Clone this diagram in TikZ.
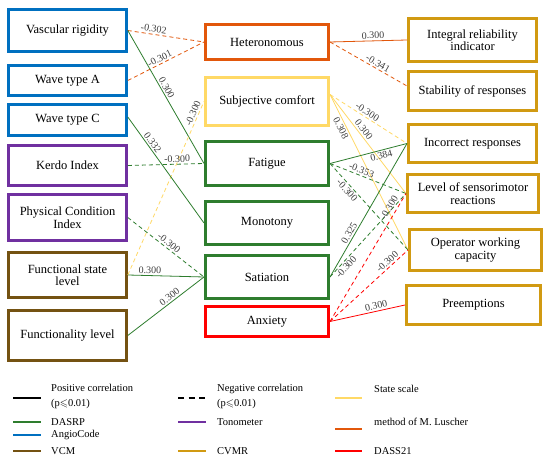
\documentclass[tikz,border=0pt]{standalone}
\usepackage{fontspec}
\setmainfont{Liberation Serif}
\usepackage{amssymb}
\definecolor{angio}{HTML}{0070C0}
\definecolor{dasrp}{HTML}{2E7D2E}
\definecolor{tono}{HTML}{7030A0}
\definecolor{vcm}{HTML}{745212}
\definecolor{cvmr}{HTML}{D19A12}
\definecolor{statesc}{HTML}{FFD966}
\definecolor{luscher}{HTML}{E2570B}
\definecolor{dass}{HTML}{FF0000}
\tikzset{
  box/.style={draw=#1, line width=2.6pt, align=center, inner sep=1pt, font=\fontsize{12.5}{12.5}\selectfont},
  posln/.style={draw=#1, line width=.8pt},
  negln/.style={draw=#1, line width=.8pt, dash pattern=on 4pt off 3pt},
  coef/.style={sloped, inner sep=1.5pt, text=black!75, font=\fontsize{10}{10}\selectfont},
  legtext/.style={anchor=west, align=left, inner sep=0pt, font=\fontsize{10.5}{15}\selectfont},
  swatch/.style={line width=2pt}
}
\begin{document}
\begin{tikzpicture}[x=1pt,y=-1pt]
\useasboundingbox[fill=white] (0,0) rectangle (550,462);
% left column
\node[box=angio,minimum width=118pt,minimum height=42.4pt] (vr) at (67.5,30.5) {Vascular rigidity};
\node[box=angio,minimum width=118pt,minimum height=30.4pt] (wta) at (67.5,80.5) {Wave type A};
\node[box=angio,minimum width=118pt,minimum height=31.4pt] (wtc) at (67.5,120) {Wave type C};
\node[box=tono,minimum width=118pt,minimum height=40.4pt] (kerdo) at (67.5,165.5) {Kerdo Index};
\node[box=tono,minimum width=118pt,minimum height=46.4pt] (pci) at (67.5,217.5) {Physical Condition\\Index};
\node[box=vcm,minimum width=118pt,minimum height=45.4pt] (fsl) at (67.5,275) {Functional state\\level};
\node[box=vcm,minimum width=118pt,minimum height=50.4pt] (fl) at (67.5,335.5) {Functionality level};
% middle column
\node[box=luscher,minimum width=123.4pt,minimum height=35.4pt] (het) at (267,42) {Heteronomous};
\node[box=statesc,minimum width=123.4pt,minimum height=48.4pt] (sc) at (267,101.5) {Subjective comfort};
\node[box=dasrp,minimum width=123.4pt,minimum height=44.4pt] (fat) at (267,163.5) {Fatigue};
\node[box=dasrp,minimum width=123.4pt,minimum height=43.4pt] (mon) at (267,223) {Monotony};
\node[box=dasrp,minimum width=123.4pt,minimum height=43.4pt] (sat) at (267,277) {Satiation};
\node[box=dass,minimum width=123.4pt,minimum height=30.4pt] (anx) at (267,321.5) {Anxiety};
% right column
\node[box=cvmr,minimum width=128.4pt,minimum height=43.4pt] (iri) at (472.5,40) {Integral reliability\\indicator};
\node[box=cvmr,minimum width=128.4pt,minimum height=39.4pt] (sor) at (472.5,91) {Stability of responses};
\node[box=cvmr,minimum width=128.4pt,minimum height=38.4pt] (ir) at (472.5,143.5) {Incorrect responses};
\node[box=cvmr,minimum width=131.4pt,minimum height=38.4pt] (lsr) at (473,193.5) {Level of sensorimotor\\reactions};
\node[box=cvmr,minimum width=132.4pt,minimum height=41.4pt] (owc) at (475.5,250) {Operator working\\capacity};
\node[box=cvmr,minimum width=134.4pt,minimum height=39.4pt] (pre) at (473.5,305) {Preemptions};

% left links
\coordinate (wtc-r) at ([yshift=3pt]wtc.east);
\draw[negln=luscher] (vr.east) -- node[coef,above,pos=.33]{-0.302} (het.west);
\draw[negln=luscher] (wta.east) -- node[coef,above,pos=.45]{-0.301} (het.west);
\draw[posln=dasrp] (vr.east) -- node[coef,above,pos=.45]{0.300} (fat.west);
\draw[negln=statesc] (fsl.east) -- node[coef,above,pos=.92]{-0.300} (sc.west);
\draw[posln=dasrp] (wtc-r) -- node[coef,above,pos=.27]{0.332} (mon.west);
\draw[negln=dasrp] (kerdo.east) -- node[coef,above,pos=.65]{-0.300} (fat.west);
\draw[negln=dasrp] (pci.east) -- node[coef,above,pos=.5]{-0.300} (sat.west);
\draw[posln=dasrp] (fsl.east) -- node[coef,above,pos=.29]{0.300} (sat.west);
\draw[posln=dasrp] (fl.east) -- node[coef,above,pos=.59]{0.300} (sat.west);

% right links
\coordinate (sc-r) at ([yshift=7pt]sc.east);
\coordinate (sor-l) at ([yshift=5pt]sor.west);
\draw[posln=luscher] (het.east) -- node[coef,above,pos=.56]{0.300} (iri.west);
\draw[negln=luscher] (het.east) -- node[coef,above,pos=.59]{-0.341} (sor-l);
\draw[negln=statesc] (sc-r) -- node[coef,above,pos=.45]{-0.300} (ir.west);
\draw[posln=statesc] (sc-r) -- node[coef,above,pos=.39]{0.300} (lsr.west);
\draw[posln=statesc] (sc-r) -- node[coef,below,pos=.2]{0.308} (owc.west);
\draw[posln=dasrp] (fat.east) -- node[coef,below,pos=.65]{0.384} (ir.west);
\draw[negln=dasrp] (fat.east) -- node[coef,above,pos=.39]{-0.353} (lsr.west);
\draw[negln=dasrp] (fat.east) -- node[coef,below,pos=.27]{-0.300} (owc.west);
\draw[posln=dasrp] (sat.east) -- node[coef,above,pos=.31]{0.325} (ir.west);
\draw[negln=dasrp] (sat.east) -- node[coef,below,pos=.16]{-0.300} (lsr.west);
\draw[negln=dass] (anx.east) -- node[coef,above=2pt,pos=.86]{-0.300} (lsr.west);
\draw[negln=dass] (anx.east) -- node[coef,above,pos=.78]{-0.300} (owc.west);
\draw[posln=dass] (anx.east) -- node[coef,above,pos=.63]{0.300} (pre.west);

% legend
\draw[swatch] (13,398) -- (41,398);
\node[legtext] (lpos) at (51,396.5) {Positive correlation\\(p$\leqslant$0.01)};
\draw[swatch,dash pattern=on 6pt off 4.5pt] (178,398) -- (205,398);
\node[legtext] (lneg) at (217,396.5) {Negative correlation\\(p$\leqslant$0.01)};
\draw[swatch,statesc] (335,398) -- (362,398);
\node[legtext] (lstate) at (374,389) {State scale};
\draw[swatch,dasrp] (13,422) -- (41,422);
\node[legtext] (ldasrp) at (51,422) {DASRP};
\draw[swatch,angio] (13,435) -- (41,435);
\node[legtext] (langio) at (51,435) {AngioCode};
\draw[swatch,vcm] (13,451) -- (41,451);
\node[legtext] (lvcm) at (51,451) {VCM};
\draw[swatch,tono] (178,422) -- (206,422);
\node[legtext] (ltono) at (217,422) {Tonometer};
\draw[swatch,cvmr] (178,451) -- (206,451);
\node[legtext] (lcvmr) at (217,451) {CVMR};
\draw[swatch,luscher] (335,429) -- (362,429);
\node[legtext] (llus) at (374,422) {method of M. Luscher};
\draw[swatch,dass] (335,451) -- (362,451);
\node[legtext] (ldass) at (374,451) {DASS21};
\end{tikzpicture}
\end{document}
